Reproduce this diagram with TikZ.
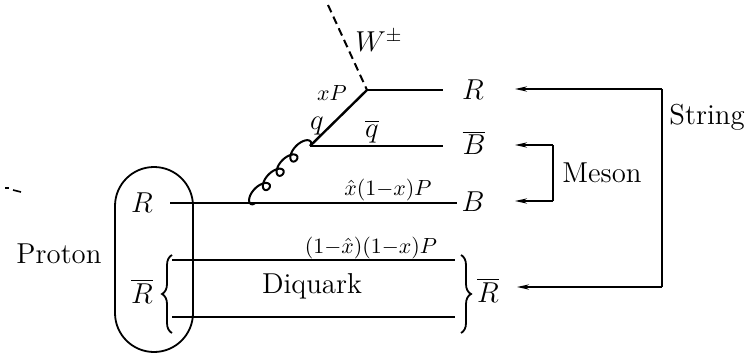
\documentclass[tikz,border=0pt]{standalone}
\usetikzlibrary{arrows.meta,decorations.pathreplacing}
\begin{document}
\begin{tikzpicture}[x=0.5pt,y=-0.5pt,font=\Large,
  fline/.style={line width=1.2pt},
  conn/.style={line width=0.9pt,-{Stealth[length=6pt,width=2.6pt]}},
  brk/.style={line width=0.9pt},
  lbl/.style={anchor=base,inner sep=0pt},
  mom/.style={anchor=base,inner sep=0pt,font=\fontsize{11}{13}\selectfont},
  bracestyle/.style={line width=0.9pt,decorate,decoration={brace,amplitude=5pt}},
  gluon/.style={line width=1pt}]
\useasboundingbox (0,0) rectangle (749,353);
% coordinates
\coordinate (Wend) at (328,5);
\coordinate (V) at (367,90);
\coordinate (Rend) at (443,90);
\coordinate (G) at (310,146);
\coordinate (qbend) at (443,146);
\coordinate (gl) at (255,203);
\coordinate (Rl) at (170,203);
\coordinate (Rr) at (457,203);
\coordinate (d1l) at (172,260);
\coordinate (d1r) at (455,260);
\coordinate (d2l) at (172,317);
\coordinate (d2r) at (455,317);
% proton oval
\node[draw,line width=0.9pt,rounded corners=19.5pt,minimum width=39pt,minimum height=92.5pt,inner sep=0pt] (oval) at (154,259.5) {};
% lines
\draw[line width=1pt,dash pattern=on 4pt off 2.4pt] (Wend) -- (V);
\draw[fline] (V) -- (Rend);
\draw[fline] (G) -- (V);
\draw[fline] (G) -- (qbend);
\draw[fline] (Rl) -- (Rr);
\draw[fline] (d1l) -- (d1r);
\draw[fline] (d2l) -- (d2r);
% gluon
\draw[gluon] plot[domain=0:1,samples=400,smooth,variable=\t]
 ({255 + 0.6944*(79.2*\t - 8*sin(1440*\t)) - 0.7197*5*(1-cos(1440*\t))},
  {203 - 0.7197*(79.2*\t - 8*sin(1440*\t)) - 0.6944*5*(1-cos(1440*\t))});
% braces
\draw[bracestyle] (172,333) -- (172,255);
\draw[bracestyle] (461,255) -- (461,333);
% labels
\node[lbl] (W) at (379,52) {$W^{\pm}$};
\node[mom] (xP) at (332,101) {$xP$};
\node[lbl] (q) at (317,129) {$q$};
\node[lbl] (qb) at (372,137) {$\overline{q}$};
\node[mom] (m1) at (388,195) {$\hat{x}(1{-}x)P$};
\node[mom] (m2) at (371,253) {$(1{-}\hat{x})(1{-}x)P$};
\node[lbl] (Rlab) at (142,212) {$R$};
\node[lbl] (Rblab) at (142,303) {$\overline{R}$};
\node[lbl] (proton) at (59,263) {Proton};
\node[lbl] (diq) at (312,293) {Diquark};
\node[lbl] (R2) at (473,99) {$R$};
\node[lbl] (Bb2) at (474,155) {$\overline{B}$};
\node[lbl] (B2) at (473,211) {$B$};
\node[lbl] (Rb2) at (488,302) {$\overline{R}$};
\node[lbl] (meson) at (602,182) {Meson};
\node[lbl] (string) at (707,125) {String};
% arrow connectors
\coordinate (s1) at (662,89);
\coordinate (s2) at (662,287);
\coordinate (t1) at (515,89);
\coordinate (t2) at (517,287);
\coordinate (m1a) at (553,145);
\coordinate (m2a) at (553,201);
\coordinate (u1) at (515,145);
\coordinate (u2) at (515,201);
\draw[brk] (s1) -- (s2);
\draw[conn] (s1) -- (t1);
\draw[conn] (s2) -- (t2);
\draw[brk] (m1a) -- (m2a);
\draw[conn] (m1a) -- (u1);
\draw[conn] (m2a) -- (u2);
% scan specks
\draw[line width=0.6pt] (5,188) -- (9,188);
\draw[line width=0.8pt] (13,190) -- (21,192);
\end{tikzpicture}
\end{document}
